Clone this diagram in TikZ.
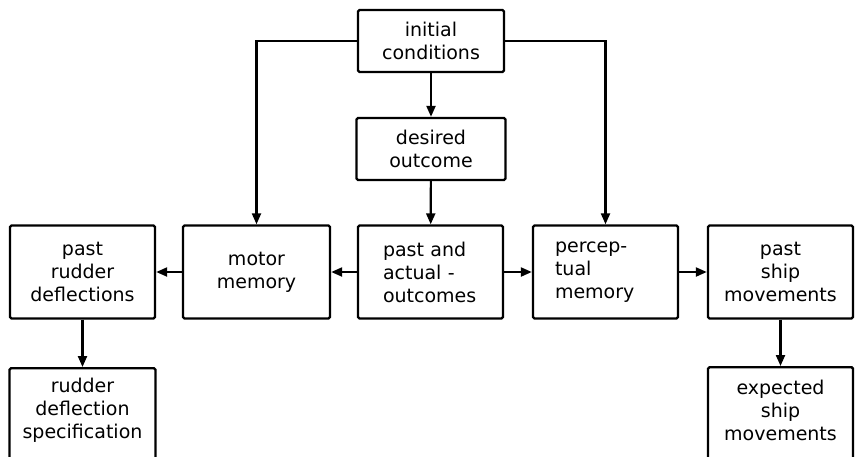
\documentclass[tikz,border=0pt]{standalone}
\usepackage{fontspec}
\setmainfont{DejaVu Sans}
\usetikzlibrary{arrows.meta,calc}
\begin{document}
\begin{tikzpicture}[x=1pt,y=-1pt,
  box/.style={draw, line width=2.4pt, rounded corners=1.5pt, inner sep=0pt},
  txt/.style={font=\fontsize{19}{23}\selectfont, align=center},
  ltxt/.style={font=\fontsize{19}{23}\selectfont, align=left},
  arr/.style={line width=2.2pt, -{Triangle[length=11pt,width=9pt]}}]
\useasboundingbox (0,0) rectangle (861,456);
\clip (0,0) rectangle (861,456);
\node[box, txt, minimum width=146pt, minimum height=62pt] (init) at (431,41) {initial\\conditions};
\node[box, txt, minimum width=149pt, minimum height=62pt] (desired) at (431,149) {desired\\outcome};
\node[box, ltxt, minimum height=93pt, inner xsep=25pt, text width=95pt] (pa) at (430.5,272) {past and\\actual -\\outcomes};
\node[box, txt, minimum width=147pt, minimum height=93pt] (motor) at (256.5,272) {motor\\memory};
\node[box, ltxt, minimum height=93pt, inner xsep=22pt, text width=101pt] (perc) at (605.5,272) {percep-\\tual\\memory};
\node[box, txt, minimum width=145pt, minimum height=93pt] (pr) at (82.5,272) {past\\rudder\\deflections};
\node[box, txt, minimum width=145pt, minimum height=93pt] (ps) at (780.5,272) {past\\ship\\movements};
\node[box, minimum width=146pt, minimum height=110pt, anchor=north] (rsbox) at (82.5,367) {};
\node[txt] (rs) at (82.5,410) {rudder\\deflection\\specification};
\node[box, minimum width=145pt, minimum height=110pt, anchor=north] (exbox) at (780.5,366) {};
\node[txt] (ex) at (780.5,410) {expected\\ship\\movements};
\draw[arr] (init) -- (desired);
\draw[arr] (desired) -- (pa);
\draw[arr] (init.west) -| (motor.north);
\draw[arr] (init.east) -| (perc.north);
\draw[arr] (pa) -- (motor);
\draw[arr] (motor) -- (pr);
\draw[arr] (pa) -- (perc);
\draw[arr] (perc) -- (ps);
\draw[arr] (pr.south) -- (pr.south |- rsbox.north);
\draw[arr] (ps.south) -- (ps.south |- exbox.north);
\end{tikzpicture}
\end{document}
